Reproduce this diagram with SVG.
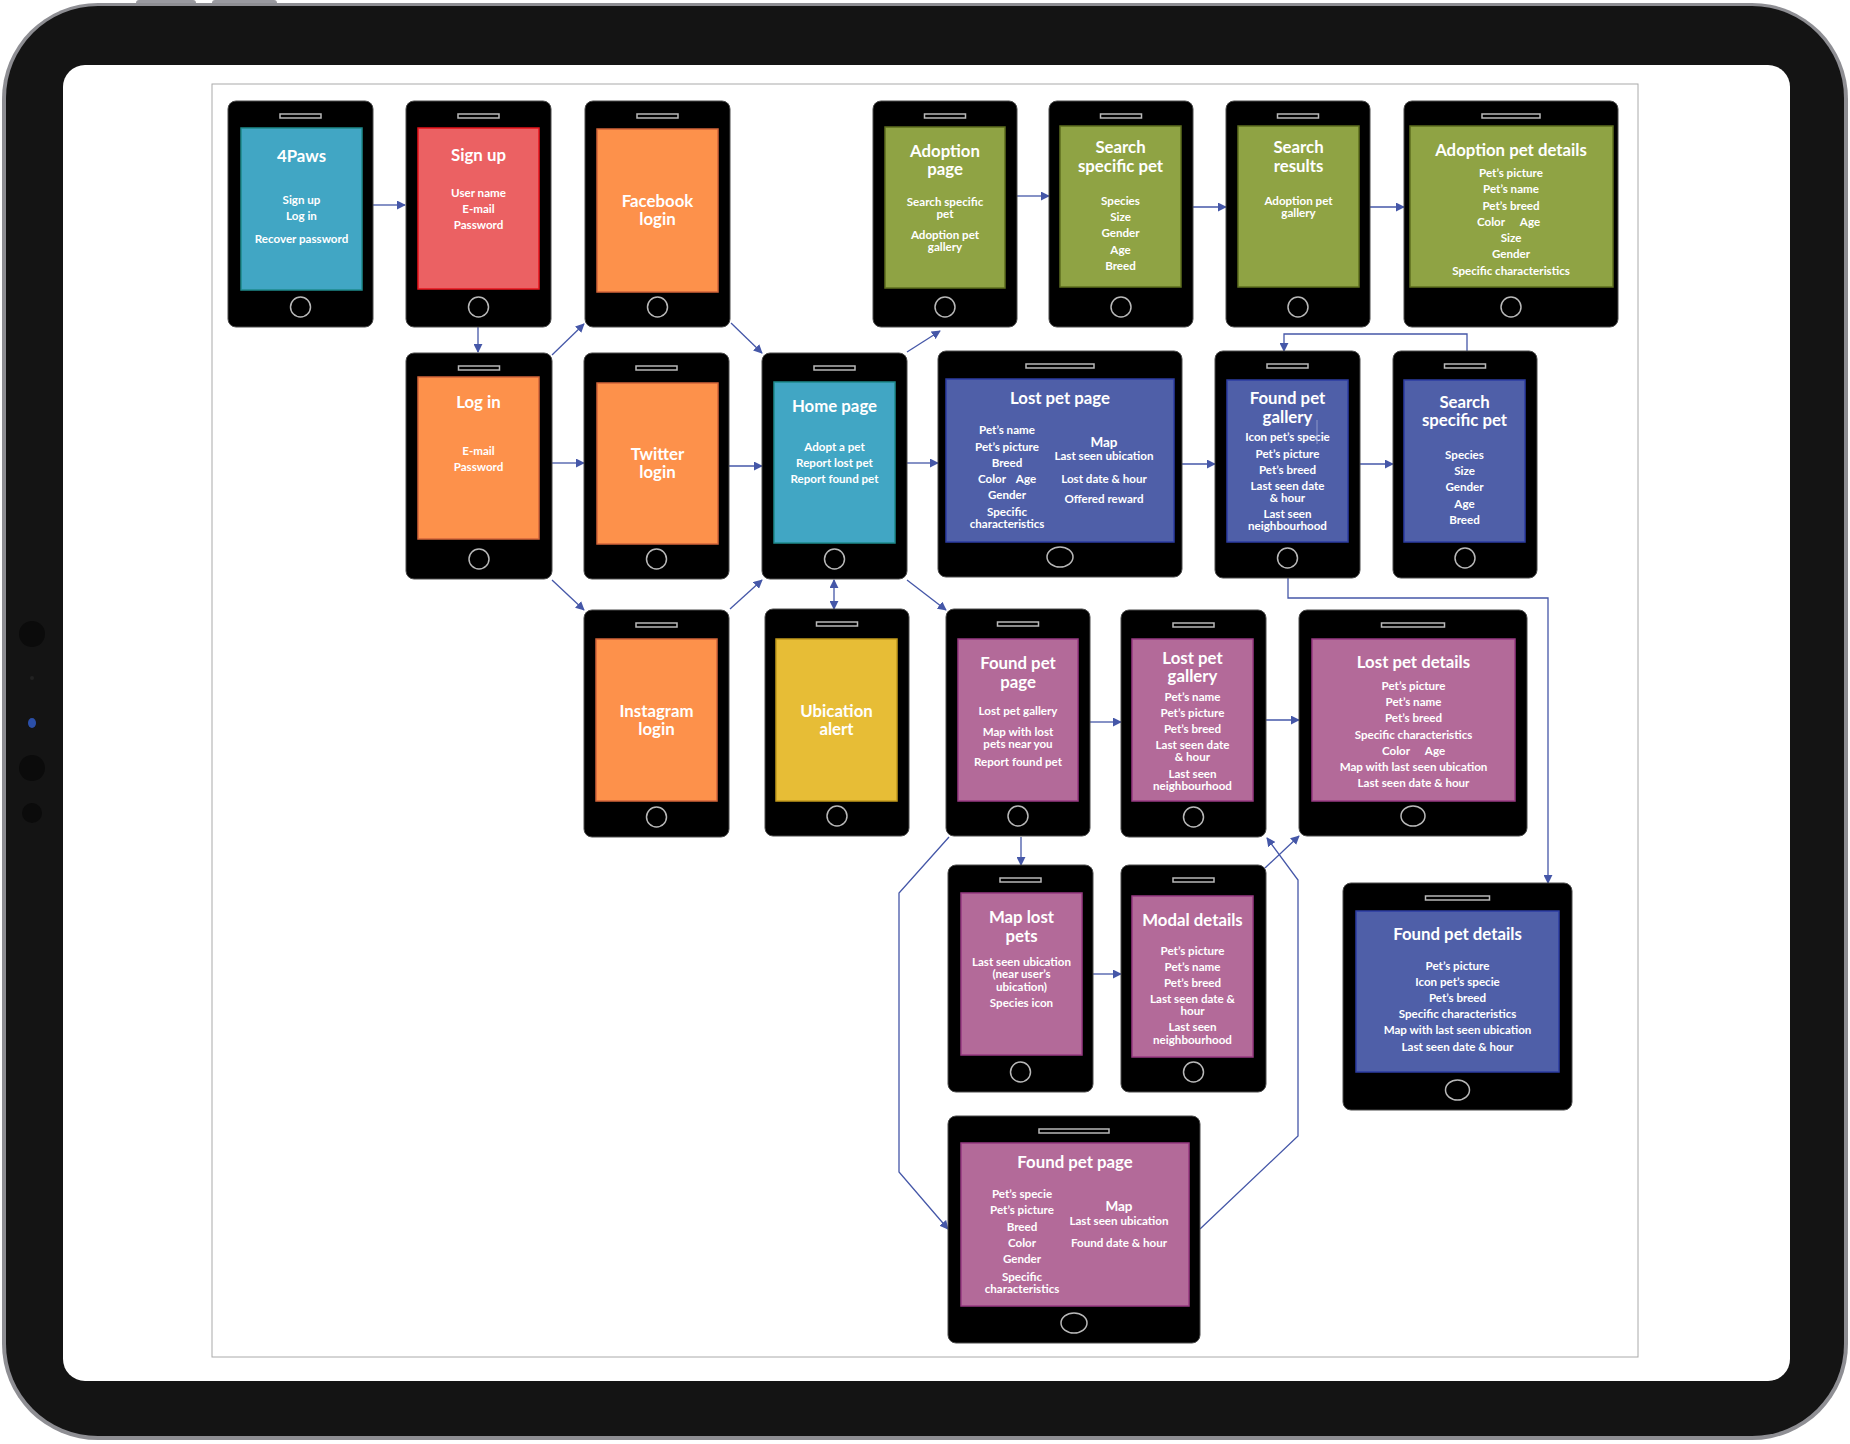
<svg xmlns="http://www.w3.org/2000/svg" width="1850" height="1444" viewBox="0 0 1850 1444">
<defs>
<style>
.ph{fill:#000;stroke:#4a4a4a;stroke-width:1}
.spk{fill:#000;stroke:#b8b8b8;stroke-width:1.5}
.hb{fill:none;stroke:#b8b8b8;stroke-width:1.5}
.teal{fill:#41a6c4;stroke:#1e8a8c;stroke-width:1.5}
.red{fill:#eb6163;stroke:#e8141c;stroke-width:1.5}
.org{fill:#fd914b;stroke:#d2643a;stroke-width:1.5}
.grn{fill:#8fa344;stroke:#5d6e1e;stroke-width:1.5}
.blu{fill:#4f5fa8;stroke:#2c3da2;stroke-width:1.5}
.pur{fill:#b36a99;stroke:#983a82;stroke-width:1.5}
.yel{fill:#e7bd36;stroke:#c29a1c;stroke-width:1.5}
text{font-family:Lato,"Open Sans","Liberation Sans",sans-serif;font-weight:700;fill:#fff;text-anchor:middle}
.t{font-size:16.8px}
.i{font-size:11.6px}
.m{font-size:13.5px}
.cn{fill:none;stroke:#4557a8;stroke-width:1.3}
</style>
<marker id="ah" viewBox="0 0 10 10" refX="9" refY="5" markerWidth="9" markerHeight="9" markerUnits="userSpaceOnUse" orient="auto-start-reverse">
<path d="M0,0 L10,5 L0,10 z" fill="#4557a8"/>
</marker>
</defs>

<g id="ipad-frame">
<rect x="136" y="0" width="60" height="8" rx="3" fill="#9a9aa0"/>
<rect x="212" y="0" width="65" height="8" rx="3" fill="#9a9aa0"/>
<rect x="2" y="3" width="1846" height="1437" rx="96" fill="#8e8e93"/>
<rect x="6" y="6" width="1838" height="1430" rx="92" fill="#141414"/>
<rect x="63" y="65" width="1727" height="1316" rx="22" fill="#fff"/>
<circle cx="32" cy="634" r="13" fill="#0b0b0b"/>
<circle cx="32" cy="678" r="2" fill="#222"/>
<ellipse cx="32" cy="723" rx="4" ry="5" fill="#2b4fa8"/>
<circle cx="32" cy="768" r="13" fill="#0b0b0b"/>
<circle cx="32" cy="813" r="10" fill="#0b0b0b"/>
<rect x="212" y="84" width="1426" height="1273" fill="none" stroke="#aaa" stroke-width="1"/>
</g>

<g id="connectors">
<path class="cn" d="M373 205 H405" marker-end="url(#ah)"/>
<path class="cn" d="M478 327 V352" marker-end="url(#ah)"/>
<path class="cn" d="M552 355 L584 324" marker-end="url(#ah)"/>
<path class="cn" d="M731 323 L762 353" marker-end="url(#ah)"/>
<path class="cn" d="M552 463 H584" marker-end="url(#ah)"/>
<path class="cn" d="M729 466 H762" marker-end="url(#ah)"/>
<path class="cn" d="M552 580 L584 610" marker-end="url(#ah)"/>
<path class="cn" d="M730 609 L762 580" marker-end="url(#ah)"/>
<path class="cn" d="M834 580 V609" marker-start="url(#ah)" marker-end="url(#ah)"/>
<path class="cn" d="M907 352 L940 331" marker-end="url(#ah)"/>
<path class="cn" d="M907 463 H938" marker-end="url(#ah)"/>
<path class="cn" d="M907 580 L946 610" marker-end="url(#ah)"/>
<path class="cn" d="M1017 196 H1049" marker-end="url(#ah)"/>
<path class="cn" d="M1193 207 H1226" marker-end="url(#ah)"/>
<path class="cn" d="M1370 207 H1404" marker-end="url(#ah)"/>
<path class="cn" d="M1467 351 V334 H1284 V351" marker-end="url(#ah)"/>
<path class="cn" d="M1182 464 H1215" marker-end="url(#ah)"/>
<path class="cn" d="M1360 464 H1393" marker-end="url(#ah)"/>
<path class="cn" d="M1288 578 V598 H1548 V883" marker-end="url(#ah)"/>
<path class="cn" d="M1090 722 H1121" marker-end="url(#ah)"/>
<path class="cn" d="M1266 720 H1299" marker-end="url(#ah)"/>
<path class="cn" d="M1021 837 V865" marker-end="url(#ah)"/>
<path class="cn" d="M1093 974 H1121" marker-end="url(#ah)"/>
<path class="cn" d="M1265 868 L1299 836" marker-end="url(#ah)"/>
<path class="cn" d="M1200 1229 L1298 1136 V880 L1267 838" marker-end="url(#ah)"/>
<path class="cn" d="M949 837 L899 893 V1172 L948 1229" marker-end="url(#ah)"/>
</g>

<g id="n-4paws">
<rect class="ph" x="228" y="101" width="145" height="226" rx="8"/>
<rect class="spk" x="280" y="114" width="41" height="4"/>
<rect class="teal" x="241" y="128" width="121" height="162"/>
<circle class="hb" cx="300.5" cy="307" r="10"/>
<text class="t" x="301.5" y="162">4Paws</text>
<text class="i" x="301.5" y="204">Sign up</text>
<text class="i" x="301.5" y="220">Log in</text>
<text class="i" x="301.5" y="243">Recover password</text>
</g>

<g id="n-signup">
<rect class="ph" x="406" y="101" width="145" height="226" rx="8"/>
<rect class="spk" x="458" y="114" width="41" height="4"/>
<rect class="red" x="418" y="128" width="121" height="161"/>
<circle class="hb" cx="478.5" cy="307" r="10"/>
<text class="t" x="478.5" y="161">Sign up</text>
<text class="i" x="478.5" y="197">User name</text>
<text class="i" x="478.5" y="213">E-mail</text>
<text class="i" x="478.5" y="229">Password</text>
</g>

<g id="n-facebook">
<rect class="ph" x="585" y="101" width="145" height="226" rx="8"/>
<rect class="spk" x="637" y="114" width="41" height="4"/>
<rect class="org" x="597" y="129" width="121" height="163"/>
<circle class="hb" cx="657.5" cy="307" r="10"/>
<text class="t" x="657.5" y="207">Facebook</text>
<text class="t" x="657.5" y="225">login</text>
</g>

<g id="n-adoption-page">
<rect class="ph" x="873" y="101" width="144" height="226" rx="8"/>
<rect class="spk" x="924.5" y="114" width="41" height="4"/>
<rect class="grn" x="885" y="127" width="120" height="161"/>
<circle class="hb" cx="945" cy="307" r="10"/>
<text class="t" x="945" y="157">Adoption</text>
<text class="t" x="945" y="175">page</text>
<text class="i" x="945" y="205.5">Search specific</text>
<text class="i" x="945" y="217.5">pet</text>
<text class="i" x="945" y="238.5">Adoption pet</text>
<text class="i" x="945" y="250.5">gallery</text>
</g>

<g id="n-search-green">
<rect class="ph" x="1049" y="101" width="144" height="226" rx="8"/>
<rect class="spk" x="1100.5" y="114" width="41" height="4"/>
<rect class="grn" x="1060" y="126" width="121" height="161"/>
<circle class="hb" cx="1121" cy="307" r="10"/>
<text class="t" x="1120.5" y="153">Search</text>
<text class="t" x="1120.5" y="172">specific pet</text>
<text class="i" x="1120.5" y="204.5">Species</text>
<text class="i" x="1120.5" y="220.5">Size</text>
<text class="i" x="1120.5" y="236.5">Gender</text>
<text class="i" x="1120.5" y="253.5">Age</text>
<text class="i" x="1120.5" y="269.5">Breed</text>
</g>

<g id="n-search-results">
<rect class="ph" x="1226" y="101" width="144" height="226" rx="8"/>
<rect class="spk" x="1277.5" y="114" width="41" height="4"/>
<rect class="grn" x="1238" y="126" width="121" height="161"/>
<circle class="hb" cx="1298" cy="307" r="10"/>
<text class="t" x="1298.5" y="153">Search</text>
<text class="t" x="1298.5" y="172">results</text>
<text class="i" x="1298.5" y="204.5">Adoption pet</text>
<text class="i" x="1298.5" y="216.5">gallery</text>
</g>

<g id="n-adoption-details">
<rect class="ph" x="1404" y="101" width="214" height="226" rx="8"/>
<rect class="spk" x="1482" y="114" width="58" height="4"/>
<rect class="grn" x="1410" y="126" width="203" height="161"/>
<circle class="hb" cx="1511" cy="307" r="10"/>
<text class="t" x="1511" y="156">Adoption pet details</text>
<text class="i" x="1511" y="176.5">Pet’s picture</text>
<text class="i" x="1511" y="192.5">Pet’s name</text>
<text class="i" x="1511" y="209.5">Pet’s breed</text>
<text class="i" x="1491" y="225.5">Color</text>
<text class="i" x="1530" y="225.5">Age</text>
<text class="i" x="1511" y="241.5">Size</text>
<text class="i" x="1511" y="257.5">Gender</text>
<text class="i" x="1511" y="274.5">Specific characteristics</text>
</g>

<g id="n-login">
<rect class="ph" x="406" y="353" width="146" height="226" rx="8"/>
<rect class="spk" x="458.5" y="366" width="41" height="4"/>
<rect class="org" x="418" y="377" width="121" height="162"/>
<circle class="hb" cx="479" cy="559" r="10"/>
<text class="t" x="478.5" y="408">Log in</text>
<text class="i" x="478.5" y="454.5">E-mail</text>
<text class="i" x="478.5" y="470.5">Password</text>
</g>

<g id="n-twitter">
<rect class="ph" x="584" y="353" width="145" height="226" rx="8"/>
<rect class="spk" x="636" y="366" width="41" height="4"/>
<rect class="org" x="597" y="383" width="121" height="161"/>
<circle class="hb" cx="656.5" cy="559" r="10"/>
<text class="t" x="657.5" y="460">Twitter</text>
<text class="t" x="657.5" y="478">login</text>
</g>

<g id="n-home">
<rect class="ph" x="762" y="353" width="145" height="226" rx="8"/>
<rect class="spk" x="814" y="366" width="41" height="4"/>
<rect class="teal" x="774" y="382" width="121" height="161"/>
<circle class="hb" cx="834.5" cy="559" r="10"/>
<text class="t" x="834.5" y="412">Home page</text>
<text class="i" x="834.5" y="450.5">Adopt a pet</text>
<text class="i" x="834.5" y="466.5">Report lost pet</text>
<text class="i" x="834.5" y="482.5">Report found pet</text>
</g>

<g id="n-lost-pet-page">
<rect class="ph" x="938" y="351" width="244" height="226" rx="8"/>
<rect class="spk" x="1026" y="364" width="68" height="4"/>
<rect class="blu" x="946" y="379" width="228" height="163"/>
<ellipse class="hb" cx="1060" cy="557" rx="13" ry="10"/>
<text class="t" x="1060" y="404">Lost pet page</text>
<text class="i" x="1007" y="433.5">Pet’s name</text>
<text class="i" x="1007" y="450.5">Pet’s  picture</text>
<text class="i" x="1007" y="466.5">Breed</text>
<text class="i" x="992" y="482.5">Color</text>
<text class="i" x="1026" y="482.5">Age</text>
<text class="i" x="1007" y="498.5">Gender</text>
<text class="i" x="1007" y="515.5">Specific</text>
<text class="i" x="1007" y="527.5">characteristics</text>
<text class="m" x="1104" y="446.5">Map</text>
<text class="i" x="1104" y="459.5">Last seen ubication</text>
<text class="i" x="1104" y="482.5">Lost date &amp; hour</text>
<text class="i" x="1104" y="502.5">Offered reward</text>
</g>

<g id="n-found-pet-gallery">
<rect class="ph" x="1215" y="351" width="145" height="227" rx="8"/>
<rect class="spk" x="1267" y="364" width="41" height="4"/>
<rect class="blu" x="1227" y="380" width="121" height="162"/>
<circle class="hb" cx="1287.5" cy="558" r="10"/>
<text class="t" x="1287.5" y="404">Found pet</text>
<text class="t" x="1287.5" y="423">gallery</text>
<text class="i" x="1287.5" y="440.5">Icon pet’s specie</text>
<line x1="1317" y1="420" x2="1317" y2="444" stroke="#8d98c9" stroke-width="1"/>
<text class="i" x="1287.5" y="457.5">Pet’s picture</text>
<text class="i" x="1287.5" y="473.5">Pet’s breed</text>
<text class="i" x="1287.5" y="489.5">Last seen date</text>
<text class="i" x="1287.5" y="501.5">&amp; hour</text>
<text class="i" x="1287.5" y="517.5">Last seen</text>
<text class="i" x="1287.5" y="529.5">neighbourhood</text>
</g>

<g id="n-search-blue">
<rect class="ph" x="1393" y="351" width="144" height="227" rx="8"/>
<rect class="spk" x="1444.5" y="364" width="41" height="4"/>
<rect class="blu" x="1404" y="380" width="121" height="162"/>
<circle class="hb" cx="1465" cy="558" r="10"/>
<text class="t" x="1464.5" y="408">Search</text>
<text class="t" x="1464.5" y="426">specific pet</text>
<text class="i" x="1464.5" y="458.5">Species</text>
<text class="i" x="1464.5" y="474.5">Size</text>
<text class="i" x="1464.5" y="490.5">Gender</text>
<text class="i" x="1464.5" y="507.5">Age</text>
<text class="i" x="1464.5" y="523.5">Breed</text>
</g>

<g id="n-instagram">
<rect class="ph" x="584" y="610" width="145" height="227" rx="8"/>
<rect class="spk" x="636" y="623" width="41" height="4"/>
<rect class="org" x="596" y="639" width="121" height="162"/>
<circle class="hb" cx="656.5" cy="817" r="10"/>
<text class="t" x="656.5" y="717">Instagram</text>
<text class="t" x="656.5" y="735">login</text>
</g>

<g id="n-ubication-alert">
<rect class="ph" x="765" y="609" width="144" height="227" rx="8"/>
<rect class="spk" x="816.5" y="622" width="41" height="4"/>
<rect class="yel" x="776" y="639" width="121" height="162"/>
<circle class="hb" cx="837" cy="816" r="10"/>
<text class="t" x="836.5" y="717">Ubication</text>
<text class="t" x="836.5" y="735">alert</text>
</g>

<g id="n-found-pet-page-small">
<rect class="ph" x="946" y="609" width="144" height="227" rx="8"/>
<rect class="spk" x="997.5" y="622" width="41" height="4"/>
<rect class="pur" x="958" y="639" width="120" height="162"/>
<circle class="hb" cx="1018" cy="816" r="10"/>
<text class="t" x="1018" y="669">Found pet</text>
<text class="t" x="1018" y="688">page</text>
<text class="i" x="1018" y="714.5">Lost pet gallery</text>
<text class="i" x="1018" y="735.5">Map with lost</text>
<text class="i" x="1018" y="747.5">pets near you</text>
<text class="i" x="1018" y="765.5">Report found pet</text>
</g>

<g id="n-lost-pet-gallery">
<rect class="ph" x="1121" y="610" width="145" height="227" rx="8"/>
<rect class="spk" x="1173" y="623" width="41" height="4"/>
<rect class="pur" x="1132" y="639" width="121" height="162"/>
<circle class="hb" cx="1193.5" cy="817" r="10"/>
<text class="t" x="1192.5" y="664">Lost pet</text>
<text class="t" x="1192.5" y="682">gallery</text>
<text class="i" x="1192.5" y="700.5">Pet’s name</text>
<text class="i" x="1192.5" y="716.5">Pet’s picture</text>
<text class="i" x="1192.5" y="732.5">Pet’s breed</text>
<text class="i" x="1192.5" y="748.5">Last seen date</text>
<text class="i" x="1192.5" y="760.5">&amp; hour</text>
<text class="i" x="1192.5" y="777.5">Last seen</text>
<text class="i" x="1192.5" y="789.5">neighbourhood</text>
</g>

<g id="n-lost-pet-details">
<rect class="ph" x="1299" y="610" width="228" height="226" rx="8"/>
<rect class="spk" x="1381.5" y="623" width="63" height="4"/>
<rect class="pur" x="1312" y="639" width="203" height="162"/>
<ellipse class="hb" cx="1413" cy="816" rx="12" ry="10"/>
<text class="t" x="1413.5" y="668">Lost pet details</text>
<text class="i" x="1413.5" y="689.5">Pet’s picture</text>
<text class="i" x="1413.5" y="705.5">Pet’s name</text>
<text class="i" x="1413.5" y="721.5">Pet’s breed</text>
<text class="i" x="1413.5" y="738.5">Specific characteristics</text>
<text class="i" x="1396" y="754.5">Color</text>
<text class="i" x="1435" y="754.5">Age</text>
<text class="i" x="1413.5" y="770.5">Map with last seen ubication</text>
<text class="i" x="1413.5" y="786.5">Last seen date &amp; hour</text>
</g>

<g id="n-map-lost-pets">
<rect class="ph" x="948" y="865" width="145" height="227" rx="8"/>
<rect class="spk" x="1000" y="878" width="41" height="4"/>
<rect class="pur" x="961" y="893" width="121" height="162"/>
<circle class="hb" cx="1020.5" cy="1072" r="10"/>
<text class="t" x="1021.5" y="923">Map lost</text>
<text class="t" x="1021.5" y="942">pets</text>
<text class="i" x="1021.5" y="965.5">Last seen ubication</text>
<text class="i" x="1021.5" y="977.5">(near user’s</text>
<text class="i" x="1021.5" y="990.5">ubication)</text>
<text class="i" x="1021.5" y="1006.5">Species icon</text>
</g>

<g id="n-modal-details">
<rect class="ph" x="1121" y="865" width="145" height="227" rx="8"/>
<rect class="spk" x="1173" y="878" width="41" height="4"/>
<rect class="pur" x="1132" y="896" width="121" height="161"/>
<circle class="hb" cx="1193.5" cy="1072" r="10"/>
<text class="t" x="1192.5" y="926">Modal details</text>
<text class="i" x="1192.5" y="954.5">Pet’s picture</text>
<text class="i" x="1192.5" y="970.5">Pet’s name</text>
<text class="i" x="1192.5" y="986.5">Pet’s breed</text>
<text class="i" x="1192.5" y="1002.5">Last seen date &amp;</text>
<text class="i" x="1192.5" y="1014.5">hour</text>
<text class="i" x="1192.5" y="1030.5">Last seen</text>
<text class="i" x="1192.5" y="1043.5">neighbourhood</text>
</g>

<g id="n-found-pet-details">
<rect class="ph" x="1343" y="883" width="229" height="227" rx="8"/>
<rect class="spk" x="1425.5" y="896" width="64" height="4"/>
<rect class="blu" x="1356" y="911" width="203" height="161"/>
<ellipse class="hb" cx="1457.5" cy="1090" rx="12" ry="10"/>
<text class="t" x="1457.5" y="940">Found pet details</text>
<text class="i" x="1457.5" y="969.5">Pet’s picture</text>
<text class="i" x="1457.5" y="985.5">Icon pet’s specie</text>
<text class="i" x="1457.5" y="1001.5">Pet’s breed</text>
<text class="i" x="1457.5" y="1017.5">Specific characteristics</text>
<text class="i" x="1457.5" y="1033.5">Map with last seen ubication</text>
<text class="i" x="1457.5" y="1050.5">Last seen date &amp; hour</text>
</g>

<g id="n-found-pet-page">
<rect class="ph" x="948" y="1116" width="252" height="227" rx="8"/>
<rect class="spk" x="1039" y="1129" width="70" height="4"/>
<rect class="pur" x="961" y="1143" width="228" height="163"/>
<ellipse class="hb" cx="1074" cy="1323" rx="13" ry="10"/>
<text class="t" x="1075" y="1168">Found pet page</text>
<text class="i" x="1022" y="1197.5">Pet’s specie</text>
<text class="i" x="1022" y="1213.5">Pet’s  picture</text>
<text class="i" x="1022" y="1230.5">Breed</text>
<text class="i" x="1022" y="1246.5">Color</text>
<text class="i" x="1022" y="1262.5">Gender</text>
<text class="i" x="1022" y="1280.5">Specific</text>
<text class="i" x="1022" y="1292.5">characteristics</text>
<text class="m" x="1119" y="1210.5">Map</text>
<text class="i" x="1119" y="1224.5">Last seen ubication</text>
<text class="i" x="1119" y="1246.5">Found date &amp; hour</text>
</g>
</svg>
